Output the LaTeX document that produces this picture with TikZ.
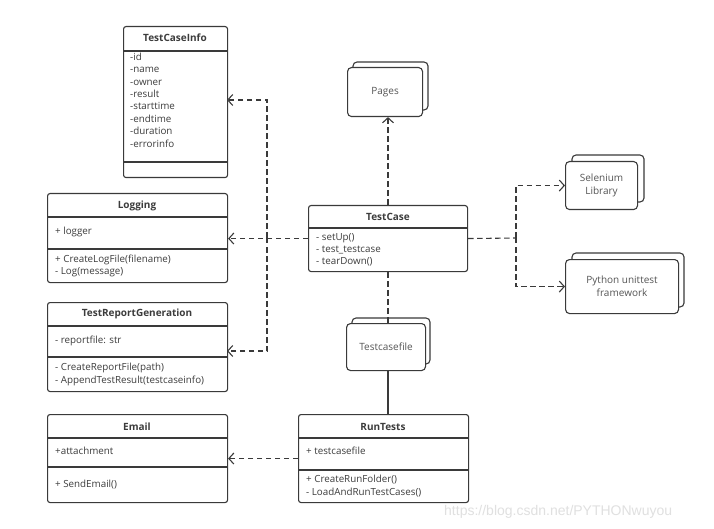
\documentclass[tikz,border=0pt]{standalone}
\usepackage{fontspec}
\setmainfont{Open Sans}
\newfontfamily\wmfont{Liberation Sans}
\usetikzlibrary{arrows.meta}
\definecolor{linecol}{HTML}{3A3A3A}
\definecolor{txtcol}{HTML}{3C3C3C}
\definecolor{doccol}{HTML}{555555}
\tikzset{
  clsbox/.style={draw=linecol, line width=1.1pt, rounded corners=2.5pt, fill=white, inner sep=0pt, anchor=north west},
  divline/.style={draw=linecol, line width=1.1pt},
  hdr/.style={font=\fontsize{10}{12}\selectfont\bfseries, text=txtcol, inner sep=0pt},
  txt/.style={font=\fontsize{9.8}{12}\selectfont, text=txtcol, inner sep=0pt, anchor=west, text height=7pt, text depth=2.2pt},
  docbox/.style={draw=linecol, line width=1.1pt, rounded corners=4pt, fill=white, inner sep=0pt, anchor=north west, font=\fontsize{10}{13}\selectfont, text=doccol, align=center},
  docback/.style={draw=linecol, line width=1.1pt, rounded corners=4pt, fill=white},
  dashln/.style={draw=linecol, line width=1.1pt, dash pattern=on 5.5pt off 3.5pt},
  dep/.style={dashln, -{Straight Barb[length=5pt,width=11pt,line width=1.1pt]}},
  solidln/.style={draw=linecol, line width=1.1pt}
}
\begin{document}
\begin{tikzpicture}[x=1pt,y=-1pt]
\fill[white] (0,0) rectangle (714,529);
\useasboundingbox (0,0) rectangle (714,529);

% watermark
\node[font=\wmfont\fontsize{14}{16}\selectfont, text=black!12, anchor=west, inner sep=0pt] (wm) at (444,512) {https://blog.csdn.net/PYTHONwuyou};

% TestCaseInfo
\node[clsbox, minimum width=104pt, minimum height=151pt] (tci) at (123,26) {};
\node[hdr] (tcih) at (175,38) {TestCaseInfo};
\draw[divline] (123,51) -- (227,51);
\draw[divline] (123,162) -- (227,162);
\foreach \t [count=\i from 0] in {-id,-name,-owner,-result,-starttime,-endtime,-duration,-errorinfo}
  \node[txt] (tcia\i) at (130,{58+12.4*\i}) {\t};

% Logging
\node[clsbox, minimum width=180pt, minimum height=89pt] (log) at (47,193) {};
\node[hdr] (logh) at (137,206) {Logging};
\draw[divline] (47,217) -- (227,217);
\draw[divline] (47,249) -- (227,249);
\node[txt] (loga) at (55,232) {+ logger};
\node[txt] (logm1) at (55,260) {+ CreateLogFile(filename)};
\node[txt] (logm2) at (55,272) {- Log(message)};

% TestReportGeneration
\node[clsbox, minimum width=180pt, minimum height=89pt] (trg) at (47,302) {};
\node[hdr] (trgh) at (137,314) {TestReportGeneration};
\draw[divline] (47,326) -- (227,326);
\draw[divline] (47,357) -- (227,357);
\node[txt] (trga) at (55,341) {- reportfile: str};
\node[txt] (trgm1) at (55,368) {- CreateReportFile(path)};
\node[txt] (trgm2) at (55,381) {- AppendTestResult(testcaseinfo)};

% Email
\node[clsbox, minimum width=180pt, minimum height=88pt] (em) at (47,414) {};
\node[hdr] (emh) at (137,427) {Email};
\draw[divline] (47,438) -- (227,438);
\draw[divline] (47,467) -- (227,467);
\node[txt] (ema) at (55,452) {+attachment};
\node[txt] (emm) at (55,485) {+ SendEmail()};

% TestCase
\node[clsbox, minimum width=159pt, minimum height=66pt] (tc) at (308,205) {};
\node[hdr] (tch) at (388,217) {TestCase};
\draw[divline] (308,228) -- (467,228);
\node[txt] (tcm1) at (316,238) {- setUp()};
\node[txt] (tcm2) at (316,250) {- test\_testcase};
\node[txt] (tcm3) at (316,262) {- tearDown()};

% RunTests
\node[clsbox, minimum width=170pt, minimum height=88pt] (rt) at (298,414) {};
\node[hdr] (rth) at (383,427) {RunTests};
\draw[divline] (298,438) -- (468,438);
\draw[divline] (298,470) -- (468,470);
\node[txt] (rta) at (306,452) {+ testcasefile};
\node[txt] (rtm1) at (306,480) {+ CreateRunFolder()};
\node[txt] (rtm2) at (306,493) {- LoadAndRunTestCases()};

% Pages
\draw[docback] (353,62) rectangle (428,110);
\node[docbox, minimum width=75pt, minimum height=49pt] (pg) at (347,67) {Pages};

% Testcasefile
\draw[docback] (352,318) rectangle (430,364);
\node[docbox, minimum width=79pt, minimum height=47pt] (tcf) at (346,323) {Testcasefile};

% Selenium Library
\draw[docback] (572,155) rectangle (644,202);
\node[docbox, minimum width=72pt, minimum height=48pt] (sel) at (565,161) {Selenium\\Library};

% Python unittest framework
\draw[docback] (572,253) rectangle (684,307);
\node[docbox, minimum width=113pt, minimum height=54pt] (py) at (565,259) {Python unittest\\framework};

% connectors
\coordinate (cx) at (388,0);
\coordinate (jl) at (267,238);
\coordinate (jr) at (516,238);
\coordinate (tciin) at (227,100);
\coordinate (trgin) at (227,351);

\draw[dep] (tc.north -| cx) -- (cx |- pg.south);
\draw[dashln] (tc.south -| cx) -- (cx |- tcf.north);
\draw[solidln] (cx |- tcf.south) -- (cx |- rt.north);
\draw[dep] (tc.west) -- (log.east |- tc.west);
\draw[dep] (jl) |- (tciin);
\draw[dep] (jl) |- (trgin);
\draw[dashln] (tc.east) -- (jr);
\draw[dep] (jr) |- (sel.west);
\draw[dep] (jr) |- (py.west);
\draw[dep] (rt.west) -- (em.east |- rt.west);
\end{tikzpicture}
\end{document}
